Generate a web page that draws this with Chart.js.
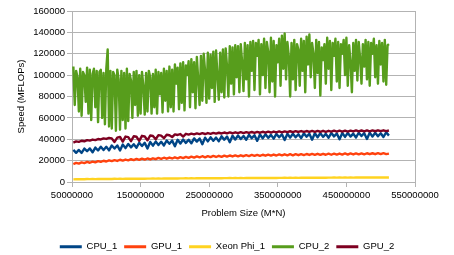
<!DOCTYPE html>
<html><head><meta charset="utf-8">
<script src="https://cdn.jsdelivr.net/npm/chart.js@4"></script>
<style>html,body{margin:0;padding:0;background:#fff}#wrap{width:454px;height:255px}</style>
</head><body><div id="wrap"><canvas id="c" width="454" height="255"></canvas></div>
<script>
const seriesNames = ["CPU_1", "GPU_1", "Xeon Phi_1", "CPU_2", "GPU_2"];
const xTickValues = [50000000, 150000000, 250000000, 350000000, 450000000, 550000000];
const yTickValues = [0, 20000, 40000, 60000, 80000, 100000, 120000, 140000, 160000];

// problem sizes (M*N) for CPU_1, GPU_1, Xeon Phi_1, GPU_2
const problemSize = [
52000000,56000000,60000000,64000000,68000000,72000000,76000000,80000000,84000000,88000000,
92000000,96000000,100000000,104000000,108000000,112000000,116000000,120000000,124000000,128000000,
132000000,136000000,140000000,144000000,148000000,152000000,156000000,160000000,164000000,168000000,
172000000,176000000,180000000,184000000,188000000,192000000,196000000,200000000,204000000,208000000,
212000000,216000000,220000000,224000000,228000000,232000000,236000000,240000000,244000000,248000000,
252000000,256000000,260000000,264000000,268000000,272000000,276000000,280000000,284000000,288000000,
292000000,296000000,300000000,304000000,308000000,312000000,316000000,320000000,324000000,328000000,
332000000,336000000,340000000,344000000,348000000,352000000,356000000,360000000,364000000,368000000,
372000000,376000000,380000000,384000000,388000000,392000000,396000000,400000000,404000000,408000000,
412000000,416000000,420000000,424000000,428000000,432000000,436000000,440000000,444000000,448000000,
452000000,456000000,460000000,464000000,468000000,472000000,476000000,480000000,484000000,488000000,
492000000,496000000,500000000,504000000,508000000,512000000];

// problem sizes (M*N) for CPU_2 (denser sampling)
const problemSizeCpu2 = [
52000000,54000000,56000000,58000000,60000000,62000000,64000000,66000000,68000000,70000000,
72000000,74000000,76000000,78000000,80000000,82000000,84000000,86000000,88000000,90000000,
92000000,94000000,96000000,98000000,100000000,102000000,104000000,106000000,108000000,110000000,
112000000,114000000,116000000,118000000,120000000,122000000,124000000,126000000,128000000,130000000,
132000000,134000000,136000000,138000000,140000000,142000000,144000000,146000000,148000000,150000000,
152000000,154000000,156000000,158000000,160000000,162000000,164000000,166000000,168000000,170000000,
172000000,174000000,176000000,178000000,180000000,182000000,184000000,186000000,188000000,190000000,
192000000,194000000,196000000,198000000,200000000,202000000,204000000,206000000,208000000,210000000,
212000000,214000000,216000000,218000000,220000000,222000000,224000000,226000000,228000000,230000000,
232000000,234000000,236000000,238000000,240000000,242000000,244000000,246000000,248000000,250000000,
252000000,254000000,256000000,258000000,260000000,262000000,264000000,266000000,268000000,270000000,
272000000,274000000,276000000,278000000,280000000,282000000,284000000,286000000,288000000,290000000,
292000000,294000000,296000000,298000000,300000000,302000000,304000000,306000000,308000000,310000000,
312000000,314000000,316000000,318000000,320000000,322000000,324000000,326000000,328000000,330000000,
332000000,334000000,336000000,338000000,340000000,342000000,344000000,346000000,348000000,350000000,
352000000,354000000,356000000,358000000,360000000,362000000,364000000,366000000,368000000,370000000,
372000000,374000000,376000000,378000000,380000000,382000000,384000000,386000000,388000000,390000000,
392000000,394000000,396000000,398000000,400000000,402000000,404000000,406000000,408000000,410000000,
412000000,414000000,416000000,418000000,420000000,422000000,424000000,426000000,428000000,430000000,
432000000,434000000,436000000,438000000,440000000,442000000,444000000,446000000,448000000,450000000,
452000000,454000000,456000000,458000000,460000000,462000000,464000000,466000000,468000000,470000000,
472000000,474000000,476000000,478000000,480000000,482000000,484000000,486000000,488000000,490000000,
492000000,494000000,496000000,498000000,500000000,502000000,504000000,506000000,508000000,510000000,
512000000];

const cpu1 = [
30000,27300,30000,27200,31300,28800,31400,27800,32200,29500,
33000,29900,32900,29600,34200,31300,34200,29500,35100,31700,
35600,32400,35400,32100,36700,33700,36600,31300,37500,34000,
37800,34600,37600,34200,38800,35800,38700,33400,39500,36000,
39800,36600,39600,36200,40800,37800,40700,35400,41500,38000,
41800,38600,41500,38100,42700,39600,42500,37200,43200,39700,
43500,40200,43100,39600,44100,41000,43800,38500,44500,40900,
44600,41300,44100,40600,45000,41900,44600,39200,45100,41500,
45200,41800,44700,41100,45500,42400,45100,39600,45600,41900,
45600,42200,45000,41400,45800,42700,45400,39900,45900,42200,
45800,42500,45300,41700,46100,43000,45700,40200,46200,42500,
46100,42800,45600,42100,46500,43400];

const gpu1 = [
16800,17900,17200,18400,17700,18800,18000,19100,18400,19500,
18800,19900,19200,20300,19500,20500,19700,20800,20000,21000,
20300,21300,20500,21600,20700,21800,20900,22000,21100,22200,
21400,22500,21600,22700,21800,22900,22000,23100,22200,23300,
22400,23500,22600,23700,22800,23900,23000,24100,23100,24200,
23300,24400,23400,24500,23600,24700,23700,24800,23900,24900,
24000,25000,24100,25100,24300,25300,24400,25400,24500,25500,
24600,25600,24700,25700,24800,25800,24900,25900,25000,26000,
25000,26000,25100,26100,25200,26200,25300,26300,25400,26400,
25400,26400,25500,26500,25500,26500,25600,26600,25700,26700,
25700,26700,25800,26800,25900,26800,25900,26900,26000,26900,
26000,27000,26100,27000,26100,26600];

const xeonPhi1 = [
2500,2650,2550,2700,2600,2750,2650,2800,2700,2850,
2750,2900,2800,2950,2850,3000,2900,3000,2950,3050,
3000,3100,3050,3150,3050,3200,3100,3200,3150,3250,
3150,3300,3200,3300,3250,3350,3250,3400,3300,3400,
3350,3450,3350,3500,3400,3500,3450,3550,3450,3600,
3500,3600,3550,3650,3550,3650,3600,3700,3600,3700,
3650,3750,3650,3750,3700,3800,3700,3800,3750,3850,
3750,3850,3800,3900,3800,3900,3850,3950,3850,3950,
3900,4000,3900,4000,3950,4050,3950,4050,4000,4100,
4000,4100,4000,4100,4050,4150,4050,4150,4100,4200,
4100,4200,4100,4200,4150,4250,4150,4250,4200,4250,
4150,4250,4200,4300,4200,4250];

const cpu2 = [
108000,72000,104000,98000,66000,106000,62000,103000,100000,75000,
107000,64000,105000,58000,101000,106000,70000,104000,56000,103000,
105000,60000,102000,54000,106000,124000,52000,104000,50000,103000,
100000,48000,105000,96000,49000,104000,58000,102000,50000,106000,
57000,101000,95000,60000,103000,72000,104000,62000,100000,64000,
103000,90000,63000,102000,66000,104000,98000,64000,101000,70000,
105000,64000,103000,82000,102000,65000,106000,76000,104000,66000,
108000,70000,105000,66000,110000,92000,107000,68000,111000,74000,
112000,67000,109000,100000,113000,70000,115000,84000,112000,69000,
117000,96000,72000,118000,76000,120000,104000,74000,121000,78000,
119000,88000,122000,75000,123000,100000,77000,121000,84000,124000,
79000,125000,108000,80000,127000,92000,126000,82000,128000,98000,
127000,84000,129000,112000,85000,130000,96000,128000,80000,131000,
104000,132000,86000,130000,118000,133000,82000,129000,100000,134000,
88000,131000,122000,84000,135000,94000,132000,80000,128000,112000,
134000,90000,137000,106000,139000,96000,131000,118000,80000,130000,
96000,133000,86000,129000,124000,90000,134000,104000,132000,84000,
136000,110000,138000,98000,130000,120000,88000,133000,102000,131000,
81000,126000,114000,129000,92000,135000,106000,132000,86000,130000,
118000,134000,94000,131000,88000,129000,120000,133000,100000,135000,
90000,128000,112000,84000,130000,104000,133000,95000,131000,116000,
92000,129000,108000,133000,96000,131000,90000,130000,120000,134000,
98000,128000,92000,132000,110000,130000,94000,133000,91000,128000,
129000];

const gpu2 = [
36900,38000,37500,38600,38100,39200,38700,39700,39200,40200,
39800,40800,40300,41300,40800,37500,41500,42200,37800,42500,
42000,38200,42800,42300,38500,43200,42600,39000,43500,43000,
40000,43900,43400,41000,44200,43700,42000,44600,44000,44900,
42500,45100,44400,45300,44600,45500,44800,45700,44900,45800,
45100,46000,45300,46100,45400,46300,45500,46400,45600,46500,
45700,46600,45800,46700,45900,46800,46000,46900,46100,47000,
46200,47100,46300,47200,46400,47300,46500,47400,46600,47500,
46700,47600,46800,47700,46800,47700,46900,47800,46900,47800,
47000,47900,47000,47900,47100,48000,47100,48000,47200,48100,
47200,48100,47300,48200,47300,48200,47400,48300,47400,48300,
47500,48400,47500,48400,47600,48200];

const seriesX = [problemSize, problemSize, problemSize, problemSizeCpu2, problemSize];
const seriesValues = [cpu1, gpu1, xeonPhi1, cpu2, gpu2];
const seriesColors = ["#004586", "#ff420e", "#ffd320", "#579d1c", "#7e0021"];

Chart.defaults.font.family = "'Liberation Sans', Arial, sans-serif";
Chart.defaults.font.size = 9.5;
Chart.defaults.color = "#000";

const datasets = seriesNames.map((name, k) => ({
  label: name,
  data: seriesX[k].map((x, i) => ({x: x, y: seriesValues[k][i]})),
  borderColor: seriesColors[k],
  backgroundColor: seriesColors[k],
  borderWidth: 2.4,
  borderJoinStyle: 'round',
  pointRadius: 0,
  tension: 0,
  order: 10 - k
}));

new Chart(document.getElementById('c'), {
  type: 'line',
  data: { datasets },
  options: {
    responsive: false,
    animation: false,
    devicePixelRatio: 1,
    layout: { padding: { top: 11, right: 0, left: 0, bottom: -6.5 } },
    plugins: {
      legend: {
        position: 'bottom',
        labels: {
          boxWidth: 22, boxHeight: 3, padding: 7, color: '#000',
          sort: (a, b) => a.datasetIndex - b.datasetIndex,
          generateLabels: chart => Chart.defaults.plugins.legend.labels.generateLabels(chart)
            .map(l => Object.assign(l, { lineWidth: 0, fillStyle: l.strokeStyle }))
        }
      },
      tooltip: { enabled: false }
    },
    scales: {
      x: {
        type: 'linear', min: xTickValues[0], max: xTickValues[xTickValues.length - 1],
        afterBuildTicks: a => { a.ticks = xTickValues.map(v => ({ value: v })); },
        ticks: { callback: v => String(v), maxRotation: 0, autoSkip: false, padding: 3, color: '#000' },
        grid: {
          color: c => (c.index === xTickValues.length - 1 ? '#b3b3b3' : 'rgba(0,0,0,0)'),
          tickColor: '#b3b3b3', tickLength: 5
        },
        border: { color: '#b3b3b3' },
        title: { display: true, text: 'Problem Size (M*N)', color: '#000', padding: { top: 0, bottom: 16.3 } },
        afterFit: s => { s.height = 53; }
      },
      y: {
        min: yTickValues[0], max: yTickValues[yTickValues.length - 1],
        afterBuildTicks: a => { a.ticks = yTickValues.map(v => ({ value: v })); },
        ticks: { callback: v => String(v), padding: 2, color: '#000' },
        grid: { color: '#b3b3b3', tickLength: 5 },
        border: { color: '#b3b3b3' },
        title: { display: true, text: 'Speed (MFLOPs)', color: '#000', padding: { top: 15.3, bottom: 0 } },
        afterFit: s => { s.width = 72; }
      },
      yRight: {
        position: 'right', display: true,
        grid: { display: false }, border: { display: false }, ticks: { display: false },
        afterFit: s => { s.width = 39; }
      }
    }
  }
});
</script></body></html>
